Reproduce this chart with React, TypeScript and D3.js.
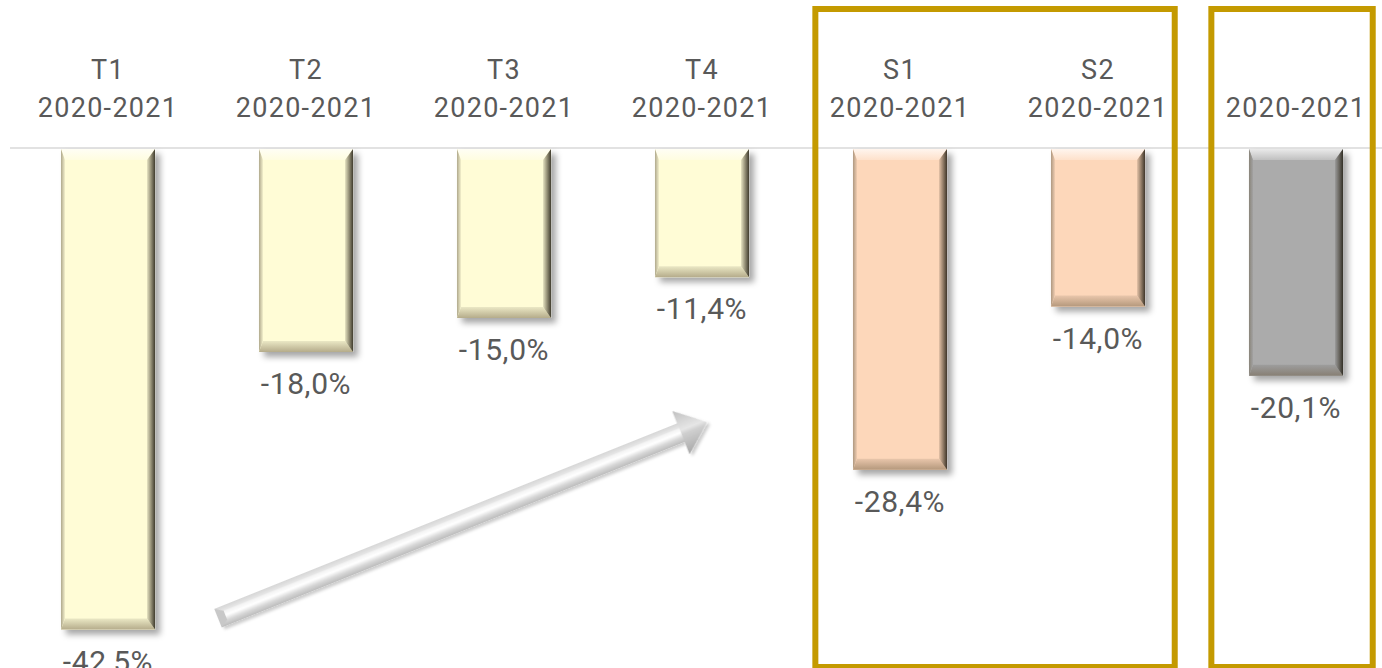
import React from "react";
import * as d3 from "d3";

const categories = ["T1", "T2", "T3", "T4", "S1", "S2", "Total"];
const headerTop = ["T1", "T2", "T3", "T4", "S1", "S2", ""];
const headerBottom = ["2020-2021", "2020-2021", "2020-2021", "2020-2021", "2020-2021", "2020-2021", "2020-2021"];
const values = [-42.5, -18.0, -15.0, -11.4, -28.4, -14.0, -20.1];
const groups = ["quarter", "quarter", "quarter", "quarter", "half", "half", "year"];
const groupColors: Record<string, string> = { quarter: "#FFFCD6", half: "#FDD7BA", year: "#ABABAB" };
const boxes = [["S1", "S2"], ["Total", "Total"]];

const W = 1382;
const H = 668;
const FONT = "Roboto, 'DejaVu Sans', sans-serif";

function mix(a: string, b: string, t: number) {
  return d3.interpolateRgb(a, b)(t);
}

export default function App() {
  const x = d3.scaleBand<string>().domain(categories).range([9, 1395]).paddingInner(0.525).paddingOuter(0.2625);
  const y = d3.scaleLinear().domain([0, -45]).range([148, 148 + 45 * 11.33]);
  const bw = x.bandwidth();
  const step = x.step();
  const fmt = (v: number) => v.toFixed(1).replace(".", ",") + "%";

  // arrow annotation anchored on the scales
  const tail = [x("T2")! + bw / 2 - 88, y(-41.5)];
  const tip = [x("T4")! + bw / 2 + 5, y(-24.2)];
  const adx = tip[0] - tail[0];
  const ady = tip[1] - tail[1];
  const L = Math.sqrt(adx * adx + ady * ady);
  const ang = (Math.atan2(ady, adx) * 180) / Math.PI;
  const sw = 10, hw = 23, hl = 28;

  const bt = 11, bb = 11, bl = 4, br = 8;

  return (
    <svg width={W} height={H} style={{ position: "absolute", left: 0, top: 0, background: "#fff" }} fontFamily={FONT}>
      <defs>
        <filter id="shadow" x="-20%" y="-20%" width="150%" height="150%">
          <feDropShadow dx="5" dy="5" stdDeviation="3" floodColor="#000" floodOpacity="0.35" />
        </filter>
        <filter id="ashadow" x="-10%" y="-50%" width="120%" height="200%">
          <feDropShadow dx="2" dy="3" stdDeviation="1.5" floodColor="#000" floodOpacity="0.2" />
        </filter>
        {Object.entries(groupColors).map(([k, f]) => (
          <React.Fragment key={k}>
            <linearGradient id={`top-${k}`} x1="0" y1="0" x2="0" y2="1">
              <stop offset="0" stopColor={mix(f, "#ffffff", 0.75)} />
              <stop offset="1" stopColor={mix(f, "#ffffff", 0.25)} />
            </linearGradient>
            <linearGradient id={`bot-${k}`} x1="0" y1="0" x2="0" y2="1">
              <stop offset="0" stopColor={mix(f, "#000000", 0.08)} />
              <stop offset="1" stopColor={mix(f, "#5a4a30", 0.45)} />
            </linearGradient>
            <linearGradient id={`left-${k}`} x1="0" y1="0" x2="1" y2="0">
              <stop offset="0" stopColor={mix(f, "#6e6450", 0.55)} />
              <stop offset="1" stopColor={mix(f, "#000000", 0.05)} />
            </linearGradient>
            <linearGradient id={`right-${k}`} x1="0" y1="0" x2="1" y2="0">
              <stop offset="0" stopColor={mix(f, "#000000", 0.1)} />
              <stop offset="0.5" stopColor={mix(f, "#2a2418", 0.5)} />
              <stop offset="1" stopColor={mix(f, "#1e1a10", 0.85)} />
            </linearGradient>
          </React.Fragment>
        ))}
        <linearGradient id="arrowShaft" gradientUnits="userSpaceOnUse" x1="0" y1={-sw} x2="0" y2={sw}>
          <stop offset="0" stopColor="#c4c4c4" />
          <stop offset="0.3" stopColor="#f4f4f4" />
          <stop offset="0.5" stopColor="#ffffff" />
          <stop offset="0.75" stopColor="#d6d6d6" />
          <stop offset="1" stopColor="#bcbcbc" />
        </linearGradient>
        <linearGradient id="arrowHead" gradientUnits="userSpaceOnUse" x1="0" y1={-hw} x2="0" y2={hw}>
          <stop offset="0" stopColor="#c0c0c0" />
          <stop offset="0.45" stopColor="#e6e6e6" />
          <stop offset="0.55" stopColor="#cfcfcf" />
          <stop offset="1" stopColor="#a8a8a8" />
        </linearGradient>
      </defs>

      <line x1={10} x2={W} y1={y(0)} y2={y(0)} stroke="#D9D9D9" strokeWidth={1.5} />

      {categories.map((c, i) => {
        const x0 = x(c)!;
        const cx = x0 + bw / 2;
        return (
          <g key={c} fill="#595959" fontSize={27} textAnchor="middle" letterSpacing={1.3}>
            {headerTop[i] && <text x={cx} y={79}>{headerTop[i]}</text>}
            <text x={cx} y={117}>{headerBottom[i]}</text>
          </g>
        );
      })}

      {categories.map((c, i) => {
        const x0 = x(c)!;
        const x1 = x0 + bw;
        const y0 = y(0) + 1;
        const y1 = y(values[i]);
        const k = groups[i];
        const f = groupColors[k];
        return (
          <g key={c}>
            <g filter="url(#shadow)">
              <rect x={x0} y={y0} width={bw} height={y1 - y0} fill={f} />
            </g>
            <polygon points={`${x0},${y0} ${x1},${y0} ${x1 - br},${y0 + bt} ${x0 + bl},${y0 + bt}`} fill={`url(#top-${k})`} />
            <polygon points={`${x0},${y1} ${x0 + bl},${y1 - bb} ${x1 - br},${y1 - bb} ${x1},${y1}`} fill={`url(#bot-${k})`} />
            <polygon points={`${x0},${y0} ${x0 + bl},${y0 + bt} ${x0 + bl},${y1 - bb} ${x0},${y1}`} fill={`url(#left-${k})`} />
            <polygon points={`${x1},${y0} ${x1},${y1} ${x1 - br},${y1 - bb} ${x1 - br},${y0 + bt}`} fill={`url(#right-${k})`} />
            <text x={x0 + bw / 2} y={y1 + 42} fill="#595959" fontSize={30} textAnchor="middle" letterSpacing={0.6}>
              {fmt(values[i])}
            </text>
          </g>
        );
      })}

      <g transform={`translate(${tail[0]},${tail[1]}) rotate(${ang})`} filter="url(#ashadow)">
        <polygon
          points={`0,${-sw} ${L - hl},${-sw} ${L - hl},${-hw} ${L},0 ${L - hl},${hw} ${L - hl},${sw} 0,${sw}`}
          fill="url(#arrowShaft)"
        />
        <polygon points={`${L - hl},${-hw} ${L},0 ${L - hl},${hw} ${L - hl},${sw} ${L - hl},${-sw}`} fill="url(#arrowHead)" />
        <polygon points={`0,${-sw} 8,${-sw + 5} 8,${sw - 5} 0,${sw}`} fill="#c8c8c8" />
        <polygon points={`0,${-sw} 8,${-sw + 5} ${L - hl},${-sw + 5} ${L - hl},${-sw}`} fill="#e2e2e2" opacity={0.6} />
      </g>

      {boxes.map(([a, b], i) => {
        const left = x(a)! - 0.19 * step;
        const right = x(b)! + bw + 0.15 * step;
        return (
          <rect key={i} x={left} y={9} width={right - left} height={667 - 9} fill="none" stroke="#C49A00" strokeWidth={6} />
        );
      })}
    </svg>
  );
}
